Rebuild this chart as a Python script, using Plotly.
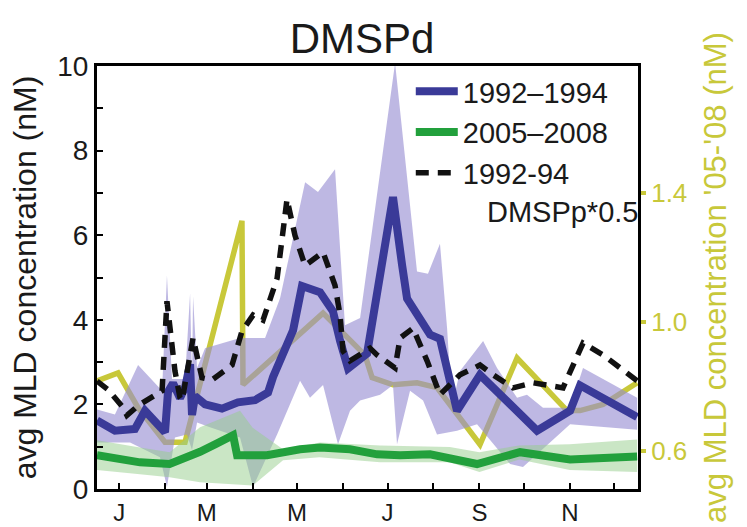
import plotly.graph_objects as go

# ---------------- data (x = day of year) ----------------
month_ticks = [15, 46, 74, 105, 135, 166, 196, 227, 258, 288, 319, 349]
month_labels = ["J", "", "M", "", "M", "", "J", "", "S", "", "N", ""]

left_ticks = [0, 1, 2, 3, 4, 5, 6, 7, 8, 9, 10]
left_labels = ["0", "", "2", "", "4", "", "6", "", "8", "", "10"]
right_ticks = [0.6, 1.0, 1.4]
right_labels = ["0.6", "1.0", "1.4"]

# 1992-1994 DMSPd (left axis)
blue_x = [0, 12.1, 25.6, 32.4, 45.9, 47.9, 51.3, 56.0, 59.4, 62.8, 64.1, 66.1, 72.9, 84.3,
          95.1, 106.6, 115.4, 118.8, 132.3, 138.3, 150.5, 159.2, 164.0, 169.4, 182.2,
          199.7, 205.8, 209.2, 224.7, 231.4, 242.9, 258.4, 296.9, 319.2, 325.9, 364.4]
blue_y = [1.62, 1.38, 1.42, 1.85, 1.34, 2.3, 2.5, 2.15, 2.4, 2.95, 1.75, 2.2, 2.0, 1.9,
          2.05, 2.1, 2.28, 2.65, 3.75, 4.8, 4.65, 4.2, 3.5, 2.85, 3.2,
          6.9, 5.3, 4.5, 3.65, 3.55, 1.85, 2.7, 1.38, 1.85, 2.45, 1.7]

# 1992-1994 spread (upper / lower envelope)
blue_hi_x = [0, 12.1, 27.7, 43.9, 47.2, 50.6, 59.4, 62.8, 64.1, 64.8, 67.5, 72.9, 96.5,
             113.4, 123.5, 140.4, 149.1, 160.6, 167.3, 177.5, 201.1, 215.9, 223.3, 231.4,
             236.2, 239.5, 244.9, 260.5, 269.9, 283.4, 290.1, 300.9, 319.2, 327.9, 364.4]
blue_hi_y = [1.88, 1.76, 2.93, 2.32, 5.05, 2.6, 2.6, 4.62, 2.51, 4.55, 2.86, 3.33, 3.57,
             3.57, 4.51, 7.25, 7.02, 7.56, 3.87, 4.04, 10.07, 5.14, 5.09, 5.8,
             3.8, 1.95, 2.79, 3.5, 2.86, 2.16, 2.23, 1.92, 1.92, 2.86, 2.16]
blue_lo_x = [0, 22.3, 42.5, 47.2, 52.6, 60.7, 64.1, 67.5, 76.2, 96.5, 105.3, 121.5, 137.0,
             143.7, 152.5, 162.6, 170.7, 177.5, 191.0, 199.7, 202.4, 211.2, 220.0, 229.4,
             242.9, 256.4, 278.7, 287.4, 319.2, 364.4]
blue_lo_y = [1.1, 1.1, 0.75, 0.05, 1.22, 1.29, 0.92, 1.57, 1.46, 1.22, 0.05, 1.29, 2.56,
             2.16, 2.46, 1.06, 1.85, 2.09, 2.23, 2.46, 1.06, 2.32, 2.09, 1.29,
             1.38, 1.53, 0.59, 0.52, 1.53, 1.4]

# 2005-2008 DMSPd (left axis)
green_x = [0, 29, 49, 60, 69.5, 80, 91.8, 94.5, 114.7, 137, 150.5, 170.7, 189, 204.5, 224.7,
           256.4, 285.4, 319.2, 364.4]
green_y = [0.8, 0.63, 0.59, 0.72, 0.88, 1.06, 1.27, 0.8, 0.8, 0.94, 0.98, 0.94, 0.82, 0.8, 0.82,
           0.59, 0.87, 0.7, 0.77]
green_hi_x = [0, 29, 49, 69.5, 96.5, 105, 125.5, 150.5, 191, 238, 258, 285, 319, 364.4]
green_hi_y = [1.15, 0.98, 0.87, 1.46, 1.85, 1.45, 0.94, 1.1, 1.03, 0.99, 0.87, 1.03, 1.06, 1.17]
green_lo_x = [0, 29, 49, 69.5, 105, 125.5, 150, 191, 238, 258, 285, 319, 364.4]
green_lo_y = [0.45, 0.35, 0.28, 0.16, 0.08, 0.68, 0.75, 0.63, 0.63, 0.4, 0.7, 0.45, 0.4]

# 1992-94 DMSPp * 0.5 (left axis)
dmspp_x = [0, 7.4, 17.5, 20.2, 27.7, 43.9, 47.2, 52.6, 56, 57.4, 64.8, 70.8, 77.6, 91.1,
           97.8, 105.3, 112, 121.5, 128.2, 133.6, 140.4, 152.5, 160.6, 164, 166, 170.7,
           184.2, 188.9, 201.1, 204.5, 213.2, 222.7, 231.4, 244.9, 258.4, 267.2, 280.7,
           294.2, 314.4, 321.2, 327.9, 341.4, 364.4]
dmspp_y = [2.55, 2.35, 1.93, 1.74, 1.97, 2.32, 4.44, 2.79, 2.16, 2.09, 3.57, 2.63, 2.58, 2.93,
           3.73, 4.11, 3.99, 4.98, 6.85, 5.99, 5.28, 5.6, 4.81, 4.11, 3.26, 3.03,
           3.33, 3.17, 2.86, 3.57, 3.8, 3.03, 2.23, 2.7, 2.93, 2.7, 2.39,
           2.51, 2.39, 2.93, 3.45, 3.17, 2.56]

# 2005-'08 DMSPd on right axis
yellow_x = [0, 14.2, 27.7, 45.9, 59.4, 97.8, 98.5, 152.5, 180.8, 185.6, 199.7, 215.9, 229.4,
            258.4, 283.4, 317.1, 325.9, 341.4, 364.4]
yellow_y = [0.818, 0.843, 0.735, 0.628, 0.628, 1.314, 0.806, 1.028, 0.898, 0.828, 0.806,
            0.812, 0.797, 0.621, 0.889, 0.726, 0.726, 0.745, 0.812]

# ---------------- styles ----------------
BLUE = "#3a3a98"
BAND_BLUE = "rgba(150,140,210,0.62)"
GREEN = "#22a03c"
BAND_GREEN = "rgba(150,205,140,0.5)"
YELLOW = "#c8c83a"
FONT = "Liberation Sans, Arial, sans-serif"
TXT = "#1a1a1a"

fig = go.Figure()

# yellow line on primary (right) axis so it sits beneath the bands
fig.add_trace(go.Scatter(x=yellow_x, y=yellow_y, mode="lines", yaxis="y",
                         line=dict(color=YELLOW, width=5.5), showlegend=False,
                         hoverinfo="skip"))

fig.add_trace(go.Scatter(x=blue_hi_x + blue_lo_x[::-1], y=blue_hi_y + blue_lo_y[::-1],
                         fill="toself", fillcolor=BAND_BLUE, mode="none", yaxis="y2",
                         showlegend=False, hoverinfo="skip"))
fig.add_trace(go.Scatter(x=green_hi_x + green_lo_x[::-1], y=green_hi_y + green_lo_y[::-1],
                         fill="toself", fillcolor=BAND_GREEN, mode="none", yaxis="y2",
                         showlegend=False, hoverinfo="skip"))

fig.add_trace(go.Scatter(x=blue_x, y=blue_y, mode="lines", yaxis="y2", name="1992\u20131994",
                         line=dict(color=BLUE, width=8)))
fig.add_trace(go.Scatter(x=green_x, y=green_y, mode="lines", yaxis="y2", name="2005\u20132008",
                         line=dict(color=GREEN, width=8)))
fig.add_trace(go.Scatter(x=dmspp_x, y=dmspp_y, mode="lines", yaxis="y2",
                         name="1992-94<br>\u00a0\u00a0\u00a0DMSPp*0.5",
                         line=dict(color="#111111", width=5.5, dash="13px,9px")))

fig.update_layout(
    width=747, height=527,
    margin=dict(l=97, r=109, t=66, b=38, autoexpand=False),
    paper_bgcolor="white", plot_bgcolor="white",
    font=dict(family=FONT, color=TXT),
    title=dict(text="DMSPd", x=0.49, xanchor="center", xref="paper",
               y=0.927, yref="container", yanchor="middle",
               font=dict(size=42, color=TXT)),
    showlegend=True,
    legend=dict(x=0.580, xanchor="left", y=1.0, yanchor="top", bgcolor="rgba(0,0,0,0)",
                font=dict(size=29, color=TXT), valign="top", tracegroupgap=0,
                itemwidth=42),
    xaxis=dict(range=[0, 365], tickmode="array", tickvals=month_ticks, ticktext=month_labels,
               ticks="inside", ticklen=6, tickwidth=2, tickcolor="black",
               showline=True, linewidth=3, linecolor="black", mirror=True,
               showgrid=False, zeroline=False, automargin=False,
               tickfont=dict(size=24, color=TXT)),
    yaxis=dict(side="right", range=[0.483, 1.794], tickmode="array", tickvals=right_ticks,
               ticktext=right_labels, ticks="outside", ticklen=5, tickwidth=4,
               tickcolor=YELLOW, tickfont=dict(size=26, color=YELLOW),
               showline=True, linewidth=3, linecolor="black", showgrid=False,
               zeroline=False, automargin=False,
               title=dict(text="avg MLD concentration '05-'08 (nM)",
                          font=dict(size=31, color=YELLOW), standoff=18)),
    yaxis2=dict(overlaying="y", side="left", range=[0, 10], tickmode="array",
                tickvals=left_ticks, ticktext=left_labels, ticks="inside", ticklen=6,
                tickwidth=2, tickcolor="black", showline=True, linewidth=3,
                linecolor="black", showgrid=False, zeroline=False, automargin=False,
                tickfont=dict(size=28, color=TXT),
                title=dict(text="avg MLD concentration (nM)",
                           font=dict(size=32, color=TXT), standoff=12)),
)

fig.write_html("out.html", config={"displayModeBar": False},
               post_script="document.body.style.margin='0px';")
